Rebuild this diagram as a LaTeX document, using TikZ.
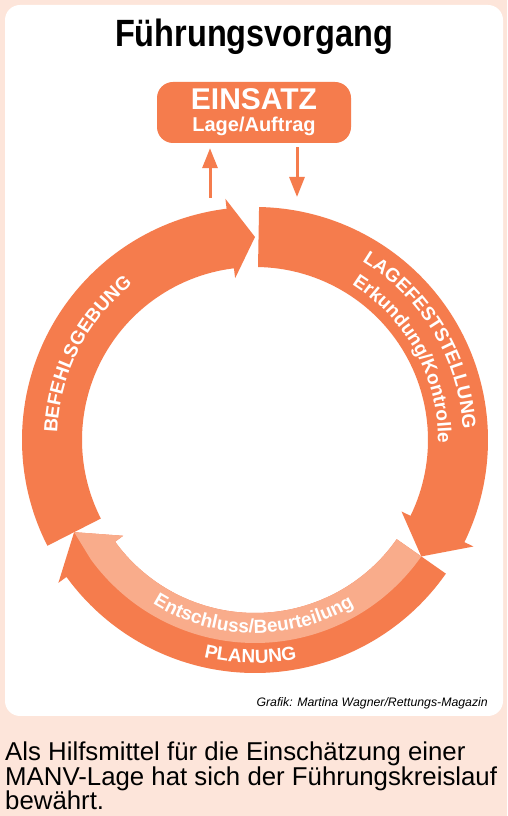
\documentclass[tikz,border=0pt]{standalone}
\usepackage{fontspec}
\setmainfont{Liberation Sans}
\usetikzlibrary{arrows.meta,decorations.text,positioning}

\newcommand\ringfont{\bfseries\fontsize{19}{19}\selectfont}

\begin{document}
\begin{tikzpicture}[x=1pt,y=1pt,
    ringtext/.style={decorate, decoration={text along path, text align=center, text color=white}},
    einsatzbox/.style={fill=ringdark, rounded corners=16pt, minimum width=194pt, minimum height=61pt, inner sep=0pt},
    boxtext/.style={anchor=base, text=white, inner sep=0pt},
    updown/.style={draw=ringdark, line width=3pt, -{Triangle[length=20pt,width=15pt]}}]
  % Define colors
  \definecolor{ringdark}{RGB}{245,124,77}
  \definecolor{ringlight}{RGB}{249,172,139}
  \definecolor{pagebg}{RGB}{253,229,218}

  % page and white panel
  \fill[pagebg] (0,0) rectangle (507,816);
  \useasboundingbox (0,0) rectangle (507,816);
  \fill[white, rounded corners=15pt] (5,100) rectangle (503,811);

  \node[anchor=base, font=\bfseries\fontsize{38}{38}\selectfont] (title) at (254,769)
    {\scalebox{0.855}[1]{Führungsvorgang}};

  % Einsatz box
  \node[einsatzbox] (einsatz) at (254,703.5) {};
  \node[boxtext, font=\bfseries\fontsize{30}{30}\selectfont] (einsatz-main) at (254,706) {EINSATZ};
  \node[boxtext, font=\bfseries\fontsize{20}{20}\selectfont] (einsatz-sub) at (254,684) {Lage/Auftrag};

  \coordinate (up-foot) at (210,618);
  \coordinate (down-foot) at (297,619);
  \draw[updown, shorten >=5pt] (up-foot) -- (up-foot |- einsatz.south);
  \draw[updown, shorten <=4pt] (down-foot |- einsatz.south) -- (down-foot);

  % the cycle
  \begin{scope}[shift={(255,376)}]
    \foreach \s/\e/\t in {89/-26/-35,-35/-144/-153,207/97/90} {
      \fill[ringdark] (\s:233) arc[start angle=\s, end angle=\e, radius=233]
        -- (\e:243) -- (\t:203) -- (\e:163) -- (\e:173)
        arc[start angle=\e, end angle=\s, radius=173] -- cycle;
    }
    % inner half of the planning arrow
    \fill[ringlight] (-35:203) arc[start angle=-35, end angle=-144, radius=203]
      -- (-153:203) -- (-144:163) -- (-144:173)
      arc[start angle=-144, end angle=-35, radius=173] -- cycle;

    \path[ringtext, decoration={text={|\ringfont|BEFEHLSGEBUNG}}]
      (200:198) arc[start angle=200, end angle=106, radius=198];
    \path[ringtext, decoration={text={|\ringfont|LAGEFESTSTELLUNG}}]
      (76:208) arc[start angle=76, end angle=-14, radius=208];
    \path[ringtext, decoration={text={|\ringfont|Erkundung/Kontrolle}}]
      (74.5:183) arc[start angle=74.5, end angle=-17.5, radius=183];
    \path[ringtext, decoration={text={|\ringfont|Entschluss/Beurteilung}}]
      (220:193) arc[start angle=220, end angle=319, radius=193];
    \path[ringtext, decoration={text={|\ringfont|PLANUNG}}]
      (240:223) arc[start angle=240, end angle=297.6, radius=223];
  \end{scope}

  \node[anchor=base east, inner sep=0pt, font=\itshape\fontsize{12.3}{12}\selectfont] (credit) at (488,109)
    {Grafik: Martina Wagner/Rettungs-Magazin};

  % base of a multi-line node is its last line
  \node[anchor=base west, align=left, inner sep=0pt, font=\fontsize{25.8}{24.5}\selectfont] (caption) at (5,6)
    {Als Hilfsmittel für die Einschätzung einer\\MANV-Lage hat sich der Führungskreislauf\\bewährt.};
\end{tikzpicture}
\end{document}
